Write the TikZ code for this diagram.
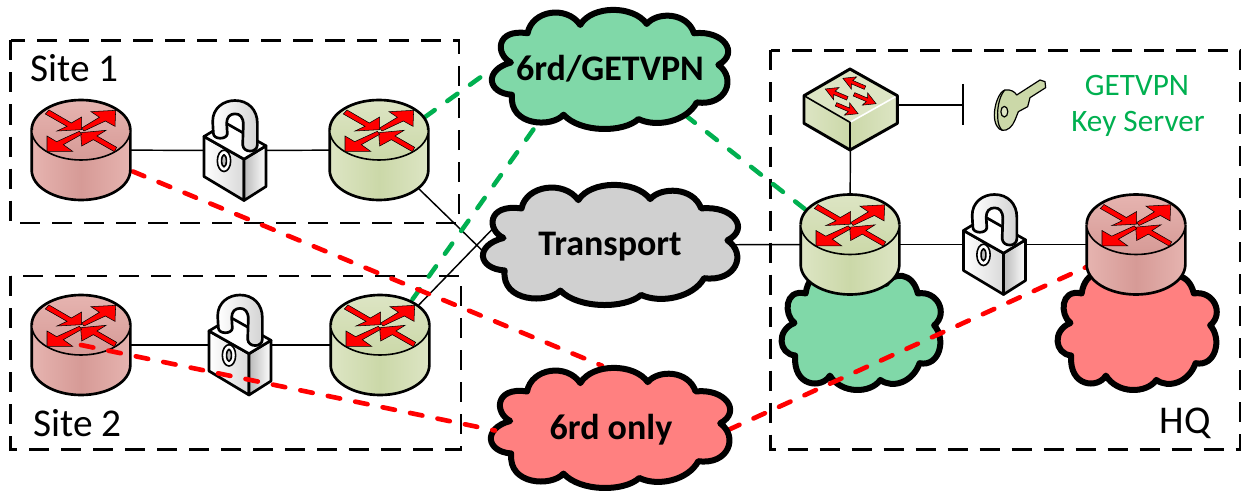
\documentclass[tikz,border=0pt]{standalone}
\usepackage{fontspec}
\setmainfont{Carlito}
\definecolor{cgreen}{HTML}{80D8A8}
\definecolor{cgray}{HTML}{D0D0D0}
\definecolor{cred}{HTML}{FF8080}
\definecolor{tgreen}{HTML}{00B050}
\definecolor{rl}{HTML}{E6B4B0}
\definecolor{rd}{HTML}{D69A96}
\definecolor{gl}{HTML}{DDE5C4}
\definecolor{gd}{HTML}{CBD8A8}
\tikzset{
  px/.style={x=.75pt,y=-.75pt},
  fine/.style={x=.25pt,y=-.25pt},
  anchorbox/.style={inner sep=0pt,minimum width=74pt,minimum height=75pt},
  sitebox/.style={draw=black,line width=2pt,dash pattern=on 15pt off 9pt},
  thinlink/.style={draw=black,line width=1.1pt},
  greenlink/.style={draw=tgreen,line width=3.4pt,line cap=round,dash pattern=on 9.4pt off 11.6pt},
  redlink/.style={draw=red,line width=3.5pt,line cap=round,dash pattern=on 9.4pt off 11.6pt},
  cloudline/.style={draw=black,line width=4.5pt,line join=round},
  iconline/.style={draw=black,line width=2pt,line join=round},
  iconthin/.style={draw=black,line width=1.2pt,line join=round},
  arrowfill/.style={fill=red,draw=black,line width=.4pt,line join=miter},
  cloudtext/.style={font=\fontsize{27}{30}\selectfont\bfseries,inner sep=0pt,anchor=base},
  sitetext/.style={font=\fontsize{29.5}{32}\selectfont,inner sep=0pt},
  keytext/.style={font=\fontsize{23.4}{28}\selectfont,text=tgreen,inner sep=0pt,anchor=base},
}
% #1 x0, #2 y0, #3 w, #4 h, #5 fill
\newcommand\cloudshape[5]{%
\begin{scope}[shift={({#1-62*#3/718},{#2-30*#4/358})},xscale={#3/718},yscale={#4/358}]
\path[cloudline,fill=#5] (122,188)
 .. controls (75,165) and (75,85) .. (172,100)
 .. controls (185,30) and (290,15) .. (330,75)
 .. controls (365,15) and (490,15) .. (530,72)
 .. controls (560,35) and (650,35) .. (672,100)
 .. controls (760,90) and (810,160) .. (745,195)
 .. controls (800,235) and (770,320) .. (680,308)
 .. controls (650,365) and (560,385) .. (505,358)
 .. controls (460,400) and (330,400) .. (280,345)
 .. controls (245,385) and (115,380) .. (125,285)
 .. controls (50,280) and (40,210) .. (122,188) -- cycle;
\end{scope}}
% #1 cx, #2 cy, #3 light, #4 dark
\newcommand\routericon[4]{%
\begin{scope}[shift={({#1-245/3},{#2-120})},fine]
\shade[left color=#3,right color=#3,middle color=#4]
 (97,300) -- (97,420) .. controls (97,469.7) and (163.3,510) .. (245,510)
 .. controls (326.7,510) and (393,469.7) .. (393,420) -- (393,300) -- cycle;
\draw[iconline]
 (97,300) -- (97,420) .. controls (97,469.7) and (163.3,510) .. (245,510)
 .. controls (326.7,510) and (393,469.7) .. (393,420) -- (393,300);
\shade[top color=#3,bottom color=#4]
 (97,300) .. controls (97,250.3) and (163.3,210) .. (245,210)
 .. controls (326.7,210) and (393,250.3) .. (393,300)
 .. controls (393,349.7) and (326.7,390) .. (245,390)
 .. controls (163.3,390) and (97,349.7) .. (97,300) -- cycle;
\draw[iconline]
 (97,300) .. controls (97,250.3) and (163.3,210) .. (245,210)
 .. controls (326.7,210) and (393,250.3) .. (393,300);
\draw[iconthin]
 (393,300) .. controls (393,349.7) and (326.7,390) .. (245,390)
 .. controls (163.3,390) and (97,349.7) .. (97,300);
\path[arrowfill] (149,240) -- (216,279) -- (247,261) -- (247,299) -- (173,303) -- (203,289) -- (138,252) -- cycle;
\path[arrowfill] (247,294) -- (300,262) -- (275,245) -- (349,241) -- (347,289) -- (318,273) -- (254,303) -- cycle;
\path[arrowfill] (244,308) -- (320,301) -- (293,318) -- (352,352) -- (345,365) -- (282,329) -- (247,348) -- cycle;
\path[arrowfill] (240,304) -- (247,313) -- (192,344) -- (220,364) -- (143,364) -- (143,318) -- (172,335) -- cycle;
\end{scope}}
% #1 cx, #2 cy
\newcommand\lockicon[2]{%
\begin{scope}[shift={({#1-235},{#2-362/3})},fine]
\shade[left color=white,right color=gray!30] (612,320) -- (732,388) -- (732,512) -- (612,440) -- cycle;
\draw[iconline] (612,320) -- (732,388) -- (732,512) -- (612,440) -- cycle;
\shade[left color=gray!55,right color=white] (732,388) -- (798,348) -- (798,470) -- (732,512) -- cycle;
\draw[iconline] (732,388) -- (798,348) -- (798,470) -- (732,512) -- cycle;
\fill[white] (612,320) -- (678,280) -- (798,348) -- (732,388) -- cycle;
\draw[iconline] (612,320) -- (678,280) -- (798,348) -- (732,388) -- cycle;
\shade[left color=white,right color=gray!35]
 (640,310) -- (638,275) .. controls (638,235) and (670,212) .. (705,212)
 .. controls (745,212) and (772,240) .. (772,280) -- (772,345)
 .. controls (772,370) and (730,370) .. (728,345) -- (730,285)
 .. controls (730,262) and (720,252) .. (705,252)
 .. controls (690,252) and (680,262) .. (680,280) -- (682,312)
 .. controls (680,330) and (640,330) .. (640,310) -- cycle;
\draw[iconline]
 (640,310) -- (638,275) .. controls (638,235) and (670,212) .. (705,212)
 .. controls (745,212) and (772,240) .. (772,280) -- (772,345)
 .. controls (772,370) and (730,370) .. (728,345) -- (730,285)
 .. controls (730,262) and (720,252) .. (705,252)
 .. controls (690,252) and (680,262) .. (680,280) -- (682,312)
 .. controls (680,330) and (640,330) .. (640,310) -- cycle;
\draw[iconthin,fill=white] (672,393) ellipse [x radius=5pt,y radius=8pt];
\draw[iconthin,fill=gray!50] (672,393) ellipse [x radius=1.8pt,y radius=4.5pt];
\end{scope}}
\newcommand\swarrowicon[3]{%
\begin{scope}[shift={(#1,#2)},scale=#3]
\path[arrowfill] (2.15,-5.06) -- (40.79,11.32) -- (40.92,-4.36) -- (66.24,28.08) -- (25.32,32.44) -- (36.49,21.44) -- (-2.15,5.06) -- cycle;
\end{scope}}
\begin{document}
\begin{tikzpicture}[px]
\useasboundingbox (0,0) rectangle (1242,492);
\fill[white] (0,0) rectangle (1242,492);
% anchors
\node[anchorbox] (r1) at (81,150) {};
\node[anchorbox] (r2) at (379,150) {};
\node[anchorbox] (r3) at (81,345) {};
\node[anchorbox] (r4) at (380,345) {};
\node[anchorbox] (r5) at (850,244.5) {};
\node[anchorbox] (r6) at (1136,244.5) {};
\node[anchorbox] (l1) at (235,150.5) {};
\node[anchorbox] (l2) at (240,345) {};
\node[anchorbox] (l3) at (994.5,244.5) {};
\node[inner sep=0pt,minimum size=30pt] (sw) at (850.5,105) {};
\coordinate (tbarm) at (963,105);
\coordinate (tbara) at (963,84);
\coordinate (tbarb) at (963,125);
\coordinate (trc) at (610,245);
\coordinate (trA) at (492,260);
\coordinate (trB) at (492,229.5);
\coordinate (gvA) at (485,74);
\coordinate (gvB) at (538,123);
\coordinate (gvC) at (685,115);
\coordinate (roA) at (602,365.7);
\coordinate (roB) at (495,430.5);
\coordinate (roC) at (728,430);
% site boxes
\draw[sitebox] (10.5,40.5) rectangle (459,223);
\draw[sitebox] (10.5,276) rectangle (461,449.5);
\draw[sitebox] (770.5,50.5) rectangle (1240,449.5);
% HQ clouds
\cloudshape{781}{270}{161}{120}{cgreen}
\cloudshape{1057}{270}{161}{120}{cred}
% thin connectors
\draw[thinlink] (r1.center) -- (l1.center);
\draw[thinlink] (l1.center) -- (r2.center);
\draw[thinlink] (r3.center) -- (l2.center);
\draw[thinlink] (l2.center) -- (r4.center);
\draw[thinlink] (r2.center) -- (trA);
\draw[thinlink] (r4.center) -- (trB);
\draw[thinlink] (trc) -- (r5.center);
\draw[thinlink] (r5.center) -- (l3.center);
\draw[thinlink] (l3.center) -- (r6.center);
\draw[thinlink] (r5.center) -- (sw.center);
\draw[thinlink] (sw.center) -- (tbarm);
\draw[thinlink] (tbara) -- (tbarb);
% dashed links under the icons
\draw[greenlink] (r2.center) -- (gvA);
\draw[greenlink] (r4.center) -- (gvB);
\draw[greenlink] (gvC) -- (r5.center);
\draw[redlink] (r1.center) -- (roA);
\draw[redlink] (roC) -- (r6.center);
% icons
\routericon{81}{150}{rl}{rd}
\routericon{379}{150}{gl}{gd}
\routericon{81}{345}{rl}{rd}
\routericon{380}{345}{gl}{gd}
\routericon{850}{244.5}{gl}{gd}
\routericon{1136}{244.5}{rl}{rd}
\lockicon{235}{150.5}
\lockicon{240}{345}
\lockicon{994.5}{244.5}
% switch
\begin{scope}[shift={(800,65)},fine]
\shade[left color=gl,right color=gd] (12,92) -- (150,172) -- (150,255) -- (12,175) -- cycle;
\shade[left color=gd,right color=gl] (150,172) -- (292,92) -- (292,175) -- (150,255) -- cycle;
\fill[gl] (12,92) -- (150,12) -- (292,92) -- (150,172) -- cycle;
\draw[white,line width=1.2pt] (150,172) -- (292,92);
\draw[iconthin] (12,92) -- (150,172) -- (150,255);
\draw[iconline,line width=2.2pt] (12,92) -- (150,12) -- (292,92) -- (292,175) -- (150,255) -- (12,175) -- cycle;
\swarrowicon{195}{68}{-1}
\swarrowicon{142}{100}{-1}
\swarrowicon{162}{88}{1}
\swarrowicon{108}{118}{1}
\end{scope}
% key
\begin{scope}[shift={(985,75)},fine]
\path[iconthin,fill=gd,line width=.9pt] (60,45) .. controls (75,42) and (90,50) .. (95,60)
 -- (165,15) -- (180,20) -- (182,38) -- (135,68) -- (128,95) -- (100,110) -- (90,135)
 .. controls (82,155) and (68,168) .. (52,166)
 .. controls (38,164) and (28,145) .. (28,120)
 .. controls (28,90) and (42,50) .. (60,45) -- cycle;
\draw[iconthin,line width=.9pt] (60,45) .. controls (48,55) and (36,90) .. (38,125) .. controls (38,145) and (44,160) .. (52,166);
\draw[iconthin,line width=.9pt,fill=gl] (58,110) ellipse [x radius=2.6pt,y radius=4pt];
\end{scope}
% central clouds
\cloudshape{491}{10}{239}{119}{cgreen}
\cloudshape{482}{185}{258}{120}{cgray}
\cloudshape{490}{368}{242}{120}{cred}
% top dashed link
\draw[redlink] (r3.center) -- (roB);
% labels
\node[cloudtext] (t1) at (610,80) {6rd/GETVPN};
\node[cloudtext] (t2) at (610,255) {Transport};
\node[cloudtext] (t3) at (611,439) {6rd only};
\node[sitetext,anchor=base west] (t4) at (30,82) {Site 1};
\node[sitetext,anchor=base west] (t5) at (33,436) {Site 2};
\node[sitetext,anchor=base east] (t6) at (1211,433) {HQ};
\node[keytext] (t7) at (1137,95) {GETVPN};
\node[keytext] (t8) at (1138,132) {Key Server};
\end{tikzpicture}
\end{document}
